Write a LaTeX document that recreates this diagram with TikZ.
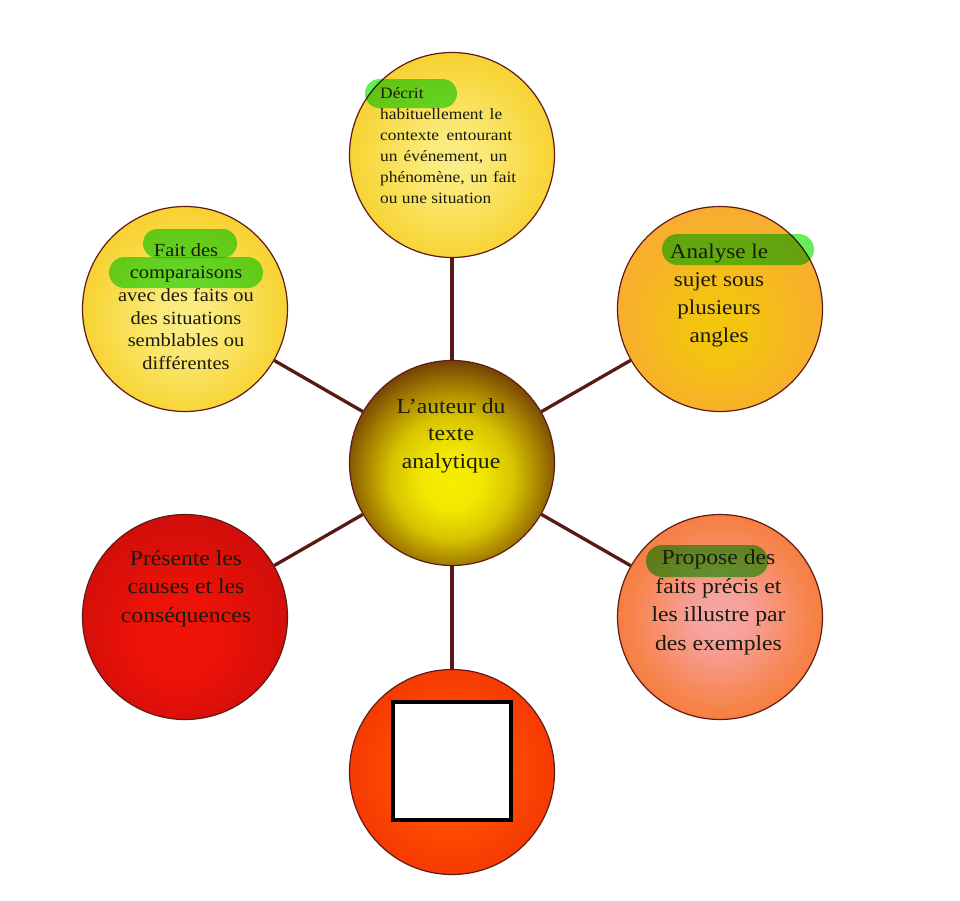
\documentclass[tikz,border=0pt]{standalone}
\usepackage{fontspec}
\setmainfont[FakeStretch=1.1]{Liberation Serif}
\definecolor{edgec}{HTML}{5E1C14}
\definecolor{linkc}{HTML}{5A1A14}
\definecolor{txtc}{HTML}{1A1A10}
\definecolor{hlgreen}{HTML}{66EE5A}
% centre
\definecolor{cA}{HTML}{F5EE00}
\definecolor{cB}{HTML}{F2E800}
\definecolor{cC}{HTML}{D8C400}
\definecolor{cD}{HTML}{A88400}
\definecolor{cE}{HTML}{7A4A04}
\definecolor{cF}{HTML}{5E2408}
\definecolor{cG}{HTML}{501408}
% top / top-left
\definecolor{yA}{HTML}{FBEE8A}
\definecolor{yB}{HTML}{FBEA78}
\definecolor{yC}{HTML}{F8D840}
\definecolor{yD}{HTML}{F5C418}
% top-right
\definecolor{oA}{HTML}{F4C60C}
\definecolor{oB}{HTML}{F4C410}
\definecolor{oC}{HTML}{F7B228}
\definecolor{oD}{HTML}{F9A43C}
% bottom-right
\definecolor{pA}{HTML}{F6A8A6}
\definecolor{pB}{HTML}{F6A09A}
\definecolor{pC}{HTML}{F7854E}
\definecolor{pD}{HTML}{F56A22}
% bottom-left
\definecolor{rA}{HTML}{F01408}
\definecolor{rB}{HTML}{EC1208}
\definecolor{rC}{HTML}{C40C0C}
% bottom
\definecolor{bA}{HTML}{FF5800}
\definecolor{bB}{HTML}{FF5000}
\definecolor{bC}{HTML}{F02A04}
% radial shadings: the circle edge lies at 35.36bp
\pgfdeclareradialshading{shCenter}{\pgfpoint{0bp}{-5bp}}{color(0bp)=(cA); color(7.1bp)=(cB); color(14.9bp)=(cC); color(21.2bp)=(cD); color(26.5bp)=(cE); color(31.1bp)=(cF); color(35.4bp)=(cG); color(50bp)=(cG)}
\pgfdeclareradialshading{shYellow}{\pgfpoint{0bp}{-1.5bp}}{color(0bp)=(yA); color(7bp)=(yB); color(21.2bp)=(yC); color(35.4bp)=(yD); color(50bp)=(yD)}
\pgfdeclareradialshading{shYellowB}{\pgfpoint{0bp}{-3bp}}{color(0bp)=(yA); color(7bp)=(yB); color(21.2bp)=(yC); color(35.4bp)=(yD); color(50bp)=(yD)}
\pgfdeclareradialshading{shOrange}{\pgfpoint{0bp}{-5.5bp}}{color(0bp)=(oA); color(7bp)=(oB); color(21.2bp)=(oC); color(35.4bp)=(oD); color(50bp)=(oD)}
\pgfdeclareradialshading{shPink}{\pgfpoint{0bp}{0bp}}{color(0bp)=(pA); color(7bp)=(pB); color(21.2bp)=(pC); color(35.4bp)=(pD); color(50bp)=(pD)}
\pgfdeclareradialshading{shRed}{\pgfpoint{-2bp}{-6bp}}{color(0bp)=(rA); color(10.6bp)=(rB); color(35.4bp)=(rC); color(50bp)=(rC)}
\pgfdeclareradialshading{shBottom}{\pgfpoint{0bp}{0bp}}{color(0bp)=(bA); color(10.6bp)=(bB); color(35.4bp)=(bC); color(50bp)=(bC)}
\begin{document}
\begin{tikzpicture}[x=1pt,y=-1pt,
  bubble/.style={circle, draw=edgec, line width=1.2pt, minimum size=205pt, inner sep=0pt},
  link/.style={draw=linkc, line width=3.3pt},
  hl/.style={fill=hlgreen, blend mode=multiply},
  txt/.style={text=txtc, inner sep=0pt, align=center}]
\useasboundingbox (0,0) rectangle (960,900);
\fill[white] (0,0) rectangle (960,900);
% bubbles
\node[bubble, shading=shCenter]  (c)  at (452,463) {};
\node[bubble, shading=shYellow]  (t)  at (452,155) {};
\node[bubble, shading=shYellowB] (tl) at (185,309) {};
\node[bubble, shading=shOrange]  (tr) at (720,309) {};
\node[bubble, shading=shPink]    (br) at (720,617) {};
\node[bubble, shading=shRed]     (bl) at (185,617) {};
\node[bubble, shading=shBottom]  (b)  at (452,772) {};
% connectors
\draw[link] (c) -- (t);
\draw[link] (c) -- (tl);
\draw[link] (c) -- (tr);
\draw[link] (c) -- (br);
\draw[link] (c) -- (bl);
\draw[link] (c) -- (b);
% square in bottom bubble
\node[draw=black, fill=white, line width=4pt, minimum size=118pt, inner sep=0pt] (sq) at (452,761) {};
% highlights
\fill[hl, rounded corners=14.5pt] (365,79) rectangle (457,108);
\fill[hl, rounded corners=14.5pt] (143,229) rectangle (237,258);
\fill[hl, rounded corners=15.5pt] (109,257) rectangle (263,288);
\fill[hl, rounded corners=15.5pt] (662,234) rectangle (814,265);
\fill[hl, rounded corners=16pt] (646,545) rectangle (768,577);
% texts
\node[txt, align=left, anchor=west, font=\fontsize{15.8pt}{21pt}\selectfont] (tT) at (380,145.5)
  {Décrit\\\makebox[122pt][s]{habituellement le}\\\makebox[132pt][s]{contexte entourant}\\\makebox[127pt][s]{un événement, un}\\\makebox[136pt][s]{phénomène, un fait}\\ou une situation};
\node[txt, font=\fontsize{18.6pt}{22.6pt}\selectfont] (tTL) at (186,306.5)
  {Fait des\\comparaisons\\avec des faits ou\\des situations\\semblables ou\\différentes};
\node[txt, font=\fontsize{21.5pt}{27.5pt}\selectfont] (tC) at (451,435.5)
  {L’auteur du\\texte\\analytique};
\node[txt, font=\fontsize{21pt}{28pt}\selectfont] (tTR) at (719,295)
  {Analyse le\\sujet sous\\plusieurs\\angles};
\node[txt, font=\fontsize{21.5pt}{28.5pt}\selectfont] (tBR) at (718.5,602.5)
  {Propose des\\faits précis et\\les illustre par\\des exemples};
\node[txt, font=\fontsize{21.5pt}{28.5pt}\selectfont] (tBL) at (186,588.5)
  {Présente les\\causes et les\\conséquences};
\end{tikzpicture}
\end{document}
